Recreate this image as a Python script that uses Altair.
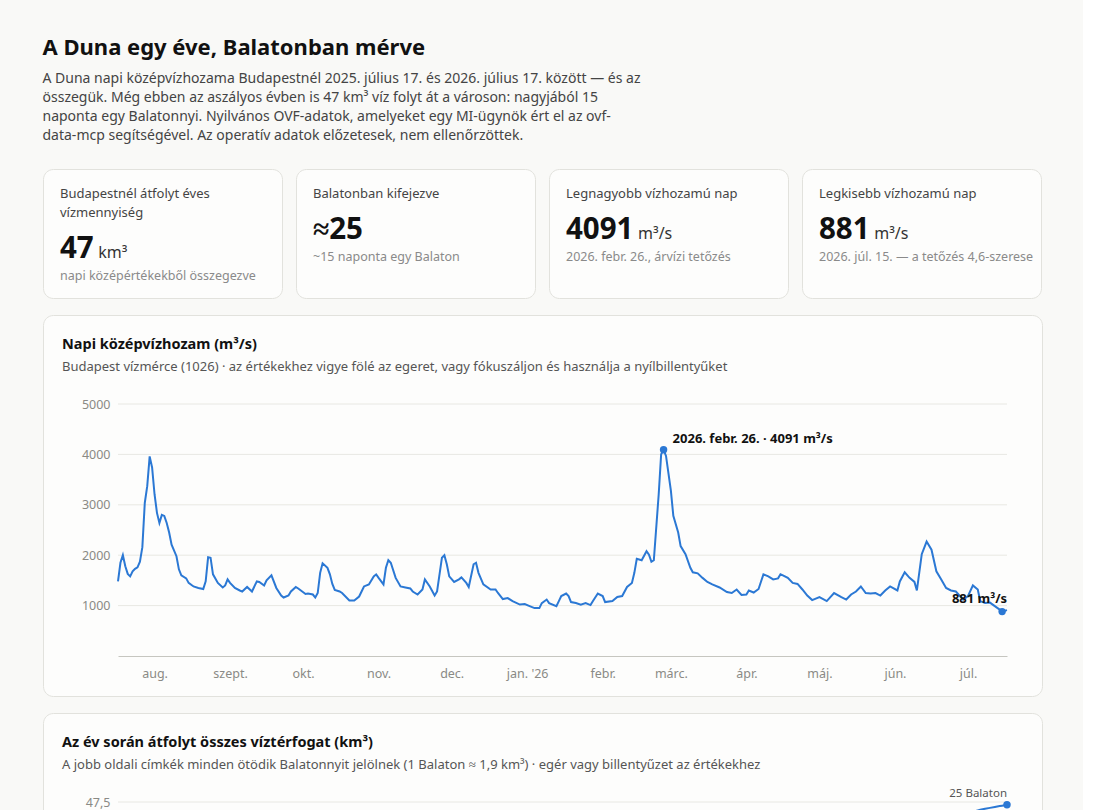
import json
import textwrap
import datetime as dt

import altair as alt
import pandas as pd

FONT = "Noto Sans"
BG = "#f9f9f7"
CARD = "#fdfdfc"
BORDER = "#e2e2dd"
GRID = "#e8e8e3"
AXISC = "#c6c6c0"
LABELC = "#8a8a85"
BLUE = "#2b78d4"

# ---------------- text ----------------
title_text = "A Duna egy éve, Balatonban mérve"
subtitle_lines = [
    "A Duna napi középvízhozama Budapestnél 2025. július 17. és 2026. július 17. között — és az",
    "összegük. Még ebben az aszályos évben is 47 km³ víz folyt át a városon: nagyjából 15",
    "naponta egy Balatonnyi. Nyilvános OVF-adatok, amelyeket egy MI-ügynök ért el az ovf-",
    "data-mcp segítségével. Az operatív adatok előzetesek, nem ellenőrzöttek.",
]

kpi_labels = ["Budapestnél átfolyt éves vízmennyiség", "Balatonban kifejezve",
              "Legnagyobb vízhozamú nap", "Legkisebb vízhozamú nap"]
kpi_values = ["47", "≈25", "4091", "881"]
kpi_units = ["km³", "", "m³/s", "m³/s"]
kpi_notes = ["napi középértékekből összegezve", "~15 naponta egy Balaton",
             "2026. febr. 26., árvízi tetőzés", "2026. júl. 15. — a tetőzés 4,6-szerese"]

chart1_title = "Napi középvízhozam (m³/s)"
chart1_sub = "Budapest vízmérce (1026) · az értékekhez vigye fölé az egeret, vagy fókuszáljon és használja a nyílbillentyűket"
chart2_title = "Az év során átfolyt összes víztérfogat (km³)"
chart2_sub = "A jobb oldali címkék minden ötödik Balatonnyit jelölnek (1 Balaton ≈ 1,9 km³) · egér vagy billentyűzet az értékekhez"

month_labels = ["jan.", "febr.", "márc.", "ápr.", "máj.", "jún.", "júl.",
                "aug.", "szept.", "okt.", "nov.", "dec."]

# ---------------- data ----------------
start = dt.date(2025, 7, 17)
days = [0, 1, 2, 3, 4, 5, 6, 7, 8, 9, 10, 11, 12, 13, 14, 15, 16, 17, 18, 19, 20, 21, 22, 24, 25, 26, 28, 29,
        31, 33, 35, 36, 37, 38, 39, 41, 43, 44, 45, 46, 48, 50, 51, 53, 55, 57, 58, 60, 61, 63, 65, 67, 68,
        70, 71, 73, 74, 77, 78, 80, 81, 82, 83, 84, 86, 87, 88, 89, 91, 92, 95, 97, 99, 101, 103, 105, 106,
        107, 109, 110, 111, 112, 114, 116, 118, 120, 121, 123, 125, 126, 128, 130, 131, 133, 134, 135, 136,
        138, 140, 141, 143, 144, 146, 147, 148, 150, 153, 155, 156, 158, 160, 162, 165, 167, 169, 171, 173,
        174, 176, 177, 180, 181, 182, 184, 185, 186, 188, 190, 192, 194, 195, 197, 199, 200, 203, 205, 207,
        209, 211, 212, 213, 215, 217, 218, 219, 220, 222, 223, 224, 225, 227, 228, 230, 231, 233, 235, 236,
        238, 240, 242, 244, 247, 250, 252, 254, 256, 258, 259, 261, 263, 265, 267, 269, 271, 272, 273, 275,
        277, 279, 281, 283, 285, 288, 291, 294, 297, 299, 301, 303, 305, 307, 309, 311, 313, 315, 317, 320,
        321, 323, 325, 327, 328, 330, 332, 334, 336, 338, 340, 342, 344, 347, 349, 351, 353, 354, 356, 358,
        360, 362, 363, 365]
flow = [1480, 1850, 2000, 1780, 1630, 1580, 1680, 1730, 1760, 1870, 2160, 3040, 3370, 3960, 3740, 3210, 2840,
        2640, 2800, 2780, 2640, 2450, 2210, 1980, 1720, 1600, 1540, 1450, 1380, 1350, 1330, 1480, 1960, 1950,
        1620, 1450, 1360, 1400, 1520, 1450, 1350, 1300, 1280, 1370, 1280, 1480, 1470, 1400, 1500, 1600, 1350,
        1200, 1160, 1200, 1280, 1370, 1340, 1230, 1240, 1220, 1160, 1250, 1650, 1840, 1750, 1620, 1430, 1310,
        1280, 1250, 1100, 1100, 1180, 1380, 1420, 1580, 1620, 1550, 1420, 1750, 1900, 1850, 1550, 1380, 1360,
        1340, 1280, 1220, 1320, 1520, 1380, 1200, 1280, 1950, 2000, 1820, 1580, 1470, 1520, 1560, 1450, 1370,
        1820, 1850, 1650, 1420, 1320, 1320, 1250, 1130, 1150, 1090, 1020, 1030, 990, 950, 950, 1050, 1120,
        1050, 990, 1090, 1190, 1240, 1190, 1070, 1050, 1020, 1050, 1010, 1090, 1240, 1190, 1070, 1090, 1170,
        1190, 1370, 1450, 1650, 1930, 1900, 2080, 2010, 1870, 1900, 3210, 4000, 4091, 3970, 3280, 2780, 2450,
        2180, 2020, 1750, 1660, 1640, 1550, 1470, 1420, 1360, 1270, 1250, 1320, 1210, 1220, 1300, 1260, 1330,
        1620, 1580, 1520, 1540, 1620, 1600, 1550, 1450, 1430, 1320, 1200, 1110, 1170, 1090, 1250, 1170, 1120,
        1220, 1280, 1380, 1250, 1240, 1250, 1200, 1300, 1380, 1300, 1480, 1660, 1550, 1470, 1300, 2020, 2270,
        2110, 1680, 1520, 1350, 1300, 1280, 1120, 1190, 1400, 1320, 1090, 1050, 1060, 990, 920, 881, 910]
flow_ticks = [1000, 2000, 3000, 4000, 5000]
balaton_km3 = 1.9
balaton_marks = [5, 10, 15, 20, 25]
vol_max = 47.5

dates = [(start + dt.timedelta(days=d)).isoformat() for d in days]
flow_df = pd.DataFrame({"date": dates, "flow": flow})

# cumulative volume (km3) from daily means, trapezoid between readings
cum = [0.0]
for i in range(1, len(days)):
    cum.append(cum[-1] + (flow[i] + flow[i - 1]) / 2 * (days[i] - days[i - 1]) * 86400 / 1e9)
vol_df = pd.DataFrame({"date": dates, "vol": cum})


def hu_date(iso):
    d = dt.date.fromisoformat(iso)
    return f"{d.year}. {month_labels[d.month - 1]} {d.day}."


imax = flow.index(max(flow))
imin = flow.index(min(flow))
peak_df = pd.DataFrame({"date": [dates[imax]], "flow": [flow[imax]],
                        "t": [f"{hu_date(dates[imax])} · {flow[imax]} m³/s"]})
min_df = pd.DataFrame({"date": [dates[imin]], "flow": [flow[imin]], "t": [f"{flow[imin]} m³/s"]})
end_df = vol_df.tail(1)

# ---------------- layout ----------------
CW, CH = 999, 381          # card (view) size
PL, PR, PT, PB = 75, 964, 89, 341   # plot area inside the card

xdomain = [alt.DateTime(year=2025, month=7, date=17, utc=True),
           alt.DateTime(year=2026, month=7, date=17, utc=True)]
month_ticks = [alt.DateTime(year=2025 + (m > 12), month=(m - 1) % 12 + 1, date=1, utc=True)
               for m in range(8, 20)]
label_expr = (json.dumps(month_labels, ensure_ascii=False) + "[utcmonth(datum.value)]"
              + " + (utcmonth(datum.value) == 0 ? \" '26\" : '')")

xscale = alt.Scale(type="utc", domain=xdomain, range=[PL, PR])
xaxis = alt.Axis(values=month_ticks, labelExpr=label_expr, labelColor=LABELC, labelFont=FONT,
                 labelFontSize=12.5, labelPadding=11, ticks=False, grid=False, domain=True,
                 domainColor=AXISC, labelFlush=False, offset=-(CH - PB))


def X():
    return alt.X("date:T", title=None, scale=xscale, axis=xaxis)


def yaxis(**kw):
    return alt.Axis(labelColor=LABELC, labelFont=FONT, labelFontSize=12.5, labelPadding=8,
                    ticks=False, domain=False, grid=False, offset=-PL, **kw)


card_view = alt.ViewBackground(fill=CARD, stroke=BORDER, strokeWidth=1, cornerRadius=10)


def card_text(title, sub):
    one = pd.DataFrame({"t": [title], "s": [sub]})
    base = alt.Chart(one)
    t = base.mark_text(align="left", baseline="middle", font=FONT, fontSize=14.5, fontWeight="bold",
                       color="#111").encode(x=alt.value(19), y=alt.value(30), text="t:N")
    s = base.mark_text(align="left", baseline="middle", font=FONT, fontSize=13,
                       color="#555").encode(x=alt.value(19), y=alt.value(52), text="s:N")
    return [t, s]


# KPI cards
def kpi_card(label, value, unit, note):
    lines = textwrap.wrap(label, 26)
    sh = 19 * (len(lines) - 1)
    df = pd.DataFrame({"label": ["\n".join(lines)], "value": [value], "unit": [unit], "note": [note]})
    b = alt.Chart(df)
    layers = [
        b.mark_text(align="left", baseline="alphabetic", font=FONT, fontSize=13, color="#444",
                    lineBreak="\n", lineHeight=19).encode(x=alt.value(17), y=alt.value(29), text="label:N"),
        b.mark_text(align="left", baseline="alphabetic", font=FONT, fontSize=29.5, fontWeight="bold",
                    color="#111").encode(x=alt.value(17), y=alt.value(70 + sh), text="value:N"),
        b.mark_text(align="left", baseline="alphabetic", font=FONT, fontSize=16,
                    color="#333").encode(x=alt.value(17 + 16.9 * len(value) + 4.5), y=alt.value(70 + sh),
                                         text="unit:N"),
        b.mark_text(align="left", baseline="alphabetic", font=FONT, fontSize=12.5,
                    color="#8a8a8a").encode(x=alt.value(17), y=alt.value(92 + sh), text="note:N"),
    ]
    return alt.layer(*layers).properties(width=239, height=129, view=card_view)


kpi_row = alt.hconcat(*[kpi_card(*a) for a in zip(kpi_labels, kpi_values, kpi_units, kpi_notes)],
                      spacing=12)

# main flow chart
yscale = alt.Scale(domain=[0, 5000], range=[PB, PT])
ax1 = yaxis(values=flow_ticks, format="d")


def Y1(field):
    return alt.Y(field, scale=yscale, title=None, axis=ax1)


grid1 = alt.Chart(pd.DataFrame({"v": flow_ticks})).mark_rule(color=GRID, strokeWidth=1).encode(
    y=Y1("v:Q"), x=alt.value(PL), x2=alt.value(PR))
line1 = alt.Chart(flow_df).mark_line(color=BLUE, strokeWidth=2).encode(x=X(), y=Y1("flow:Q"))
pk_pt = alt.Chart(peak_df).mark_circle(size=55, color=BLUE, opacity=1).encode(x=X(), y=Y1("flow:Q"))
pk_tx = alt.Chart(peak_df).mark_text(align="left", baseline="middle", dx=9, dy=-11, font=FONT,
                                     fontSize=13, fontWeight="bold", color="#111").encode(
    x=X(), y=Y1("flow:Q"), text="t:N")
mn_pt = alt.Chart(min_df).mark_circle(size=55, color=BLUE, opacity=1).encode(x=X(), y=Y1("flow:Q"))
mn_tx = alt.Chart(min_df).mark_text(align="right", baseline="middle", dx=5, dy=-13, font=FONT,
                                    fontSize=13, fontWeight="bold", color="#111").encode(
    x=X(), y=Y1("flow:Q"), text="t:N")

main = alt.layer(grid1, *card_text(chart1_title, chart1_sub), line1, pk_pt, pk_tx, mn_pt, mn_tx).properties(
    width=CW, height=CH, view=card_view)

# cumulative chart
vol_ticks = [k * balaton_km3 for k in balaton_marks]
yscale2 = alt.Scale(domain=[0, vol_max], range=[PB, PT])
ax2 = yaxis(values=vol_ticks, labelExpr="replace(format(datum.value, '.1~f'), '.', ',')")


def Y2(field):
    return alt.Y(field, scale=yscale2, title=None, axis=ax2)


bal_df = pd.DataFrame({"v": vol_ticks, "t": [f"{k} Balaton" for k in balaton_marks]})
grid2 = alt.Chart(bal_df).mark_rule(color=GRID, strokeWidth=1).encode(
    y=Y2("v:Q"), x=alt.value(PL), x2=alt.value(PR))
bal_tx = alt.Chart(bal_df).mark_text(align="right", baseline="alphabetic", dy=-5, font=FONT,
                                     fontSize=11.5, color="#555").encode(
    x=alt.value(PR), y=Y2("v:Q"), text="t:N")
line2 = alt.Chart(vol_df).mark_line(color=BLUE, strokeWidth=2).encode(x=X(), y=Y2("vol:Q"))
end_pt = alt.Chart(end_df).mark_circle(size=55, color=BLUE, opacity=1).encode(x=X(), y=Y2("vol:Q"))

second = alt.layer(grid2, *card_text(chart2_title, chart2_sub), bal_tx, line2, end_pt).properties(
    width=CW, height=CH, view=card_view)

chart = alt.vconcat(kpi_row, main, second, spacing=15).properties(
    title=alt.TitleParams(text=title_text, subtitle=subtitle_lines, anchor="start", frame="bounds",
                          font=FONT, fontSize=22, fontWeight="bold", color="#111",
                          subtitleFont=FONT, subtitleFontSize=14, subtitleColor="#444",
                          subtitleLineHeight=19.3, subtitlePadding=12, offset=24),
    padding={"left": 42, "top": 36, "right": 40, "bottom": 420},
    background=BG,
).configure_view(strokeWidth=0)

chart.save("out.html", embed_options={"renderer": "svg", "actions": False})
